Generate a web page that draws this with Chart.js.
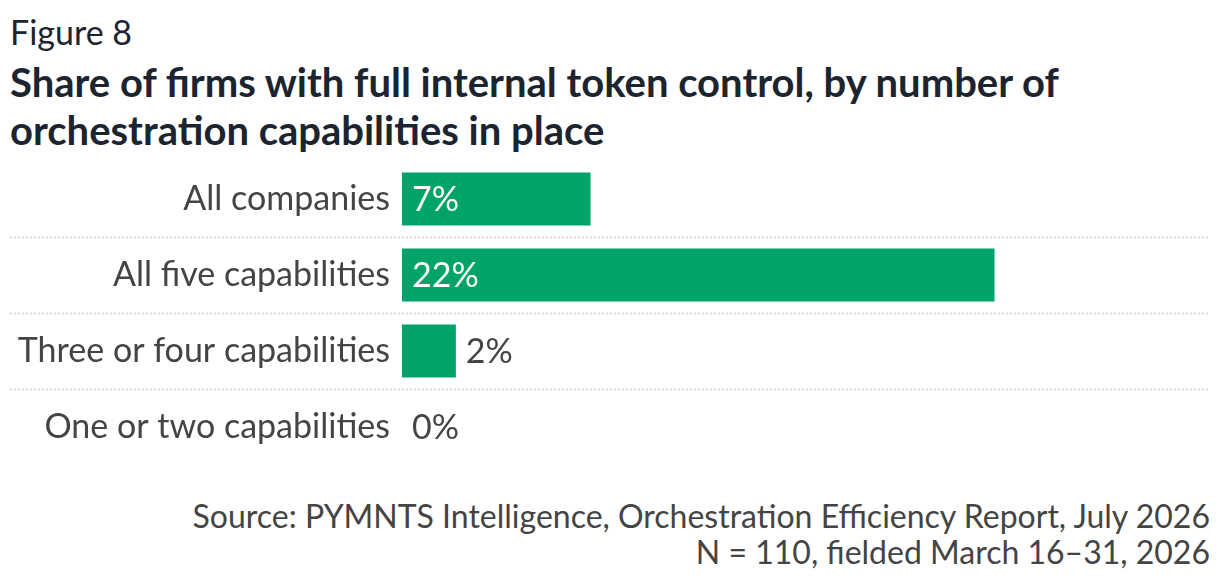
<!DOCTYPE html>
<html>
<head>
<meta charset="utf-8">
<script src="https://cdn.jsdelivr.net/npm/chart.js@4"></script>
<style>
  html, body { margin: 0; padding: 0; background: #fff; }
  body { width: 1220px; height: 582px; position: relative; overflow: hidden; font-family: Lato, sans-serif; }
  #fig { position: absolute; left: 10px; top: 15px; font-size: 34px; color: #1c2430; line-height: 1; }
  #title { position: absolute; left: 10px; top: 58px; font-size: 40px; font-weight: 700; color: #1c2430; line-height: 48px; white-space: nowrap; }
  #wrap { position: absolute; left: 0; top: 161px; width: 1220px; height: 304px; }
  #source { position: absolute; right: 10px; top: 498px; font-size: 32px; color: #444; text-align: right; line-height: 36px; white-space: nowrap; }
</style>
</head>
<body>
<div id="fig">Figure 8</div>
<div id="title">Share of firms with full internal token control, by number of<br>orchestration capabilities in place</div>
<div id="wrap"><canvas id="chart"></canvas></div>
<div id="source">Source: PYMNTS Intelligence, Orchestration Efficiency Report, July 2026<br>N = 110, fielded March 16–31, 2026</div>
<script>
// --- DATA ---
const categories = ['All companies', 'All five capabilities', 'Three or four capabilities', 'One or two capabilities'];
const shares = [7, 22, 2, 0];
const axisMax = 30;

const green = '#00a468';
const labelGray = '#444444';

// --- DOTTED SEPARATORS BETWEEN ROWS ---
const separators = {
    id: 'separators',
    beforeDatasetsDraw(chart) {
        const ctx = chart.ctx;
        const y = chart.scales.y;
        ctx.save();
        ctx.strokeStyle = '#d4d4d4';
        ctx.lineWidth = 1.5;
        ctx.setLineDash([2, 2]);
        for (let i = 0; i < categories.length - 1; i++) {
            const py = Math.round((y.getPixelForValue(i) + y.getPixelForValue(i + 1)) / 2) + 0.5;
            ctx.beginPath();
            ctx.moveTo(10, py);
            ctx.lineTo(1210, py);
            ctx.stroke();
        }
        ctx.restore();
    }
};

// --- VALUE LABELS ---
const valueLabels = {
    id: 'valueLabels',
    afterDatasetsDraw(chart) {
        const ctx = chart.ctx;
        const meta = chart.getDatasetMeta(0);
        ctx.save();
        ctx.font = '34px Lato';
        ctx.textBaseline = 'middle';
        meta.data.forEach((bar, i) => {
            const v = shares[i];
            const inside = v >= 5;
            ctx.fillStyle = inside ? '#ffffff' : labelGray;
            const x = inside ? bar.base + 10 : bar.x + 10;
            ctx.fillText(v + '%', x, bar.y + 1);
        });
        ctx.restore();
    }
};

new Chart(document.getElementById('chart'), {
    type: 'bar',
    data: {
        labels: categories,
        datasets: [{
            data: shares,
            backgroundColor: green,
            borderWidth: 0,
            barPercentage: 0.7,
            categoryPercentage: 1
        }]
    },
    options: {
        indexAxis: 'y',
        responsive: true,
        maintainAspectRatio: false,
        animation: false,
        layout: { padding: { left: 0, right: 10, top: 0, bottom: 0 } },
        plugins: { legend: { display: false }, tooltip: { enabled: false } },
        scales: {
            x: { min: 0, max: axisMax, display: false },
            y: {
                grid: { display: false, drawTicks: false },
                border: { display: false },
                ticks: { color: labelGray, font: { family: 'Lato', size: 34 }, padding: 12 },
                afterFit(scale) {
                    scale.width = 402;
                    scale.paddingTop = 0;
                    scale.paddingBottom = 0;
                }
            }
        }
    },
    plugins: [separators, valueLabels]
});
</script>
</body>
</html>
